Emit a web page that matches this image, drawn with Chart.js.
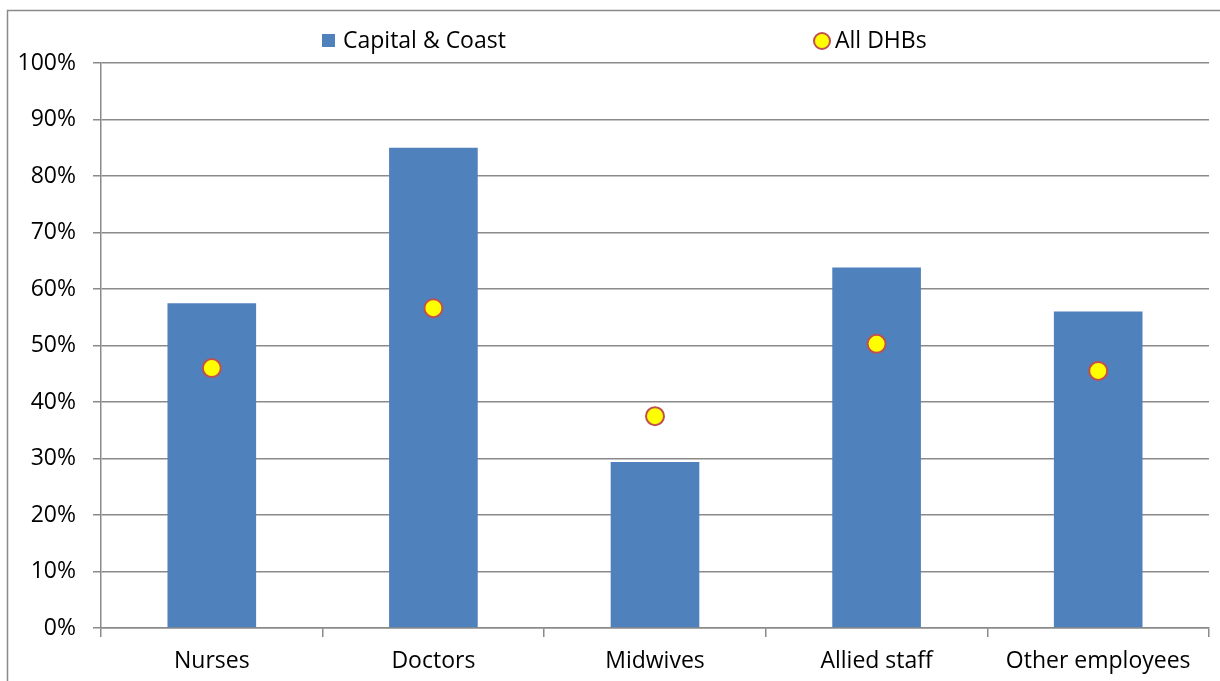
<!DOCTYPE html>
<html>
<head>
<meta charset="utf-8">
<script src="https://cdn.jsdelivr.net/npm/chart.js@4/dist/chart.umd.min.js"></script>
<style>
  html, body { margin: 0; padding: 0; background: #fff; }
  #wrap { width: 1220px; height: 681px; }
</style>
</head>
<body>
<div id="wrap"><canvas id="myChart" width="1220" height="681"></canvas></div>
<script>
const categories = ['Nurses', 'Doctors', 'Midwives', 'Allied staff', 'Other employees'];
const capitalCoast = [57.5, 85.0, 29.4, 63.8, 56.0];
const allDhbs = [46.0, 56.6, 37.5, 50.3, 45.5];
const yTicks = [0, 10, 20, 30, 40, 50, 60, 70, 80, 90, 100];

const FONT = '"Open Sans", "Noto Sans", sans-serif';
const gridColor = '#8a8a8a';

// outer frame + legend spread out like the original
const framePlugin = {
    id: 'frame',
    beforeDraw(chart) {
        const ctx = chart.ctx;
        ctx.save();
        ctx.fillStyle = '#fff';
        ctx.fillRect(0, 0, chart.width, chart.height);
        ctx.strokeStyle = gridColor;
        ctx.lineWidth = 1.5;
        ctx.strokeRect(7.5, 10.5, 1400, 1000);
        ctx.restore();
    },
    afterDraw(chart) {
        const ctx = chart.ctx;
        ctx.save();
        ctx.font = '23px ' + FONT;
        ctx.textBaseline = 'middle';
        ctx.fillStyle = '#4F81BD';
        ctx.fillRect(322, 34, 13, 13);
        ctx.fillStyle = '#000';
        ctx.fillText(chart.data.datasets[0].label, 343, 41);
        ctx.beginPath();
        ctx.arc(822, 41, 8, 0, Math.PI * 2);
        ctx.fillStyle = '#FFFF00';
        ctx.fill();
        ctx.lineWidth = 2;
        ctx.strokeStyle = '#C0504D';
        ctx.stroke();
        ctx.fillStyle = '#000';
        ctx.fillText(chart.data.datasets[1].label, 835, 41);
        ctx.restore();
    }
};

const ctx = document.getElementById('myChart').getContext('2d');
const myChart = new Chart(ctx, {
    type: 'bar',
    data: {
        labels: categories,
        datasets: [{
            label: 'Capital & Coast',
            data: capitalCoast,
            backgroundColor: '#4F81BD',
            categoryPercentage: 1,
            barPercentage: 0.4,
            order: 1
        }, {
            label: 'All DHBs',
            type: 'line',
            data: allDhbs,
            showLine: false,
            pointRadius: 9,
            pointHoverRadius: 9,
            pointBackgroundColor: '#FFFF00',
            pointBorderColor: '#C0504D',
            pointBorderWidth: 2,
            order: 0
        }]
    },
    plugins: [framePlugin],
    options: {
        responsive: false,
        animation: false,
        layout: { padding: { top: 63, right: 8, left: 0, bottom: 0 } },
        plugins: {
            legend: { display: false },
            tooltip: { enabled: false }
        },
        scales: {
            x: {
                grid: {
                    offset: true,
                    drawOnChartArea: false,
                    drawTicks: true,
                    tickLength: 9,
                    color: gridColor,
                    lineWidth: 1.5
                },
                border: { color: gridColor, width: 1.5 },
                ticks: {
                    color: '#000',
                    font: { family: FONT, size: 23 },
                    padding: 11,
                    maxRotation: 0
                },
                afterFit(scale) {
                    scale.height = 53;
                    scale.paddingLeft = 0;
                    scale.paddingRight = 0;
                }
            },
            y: {
                min: 0,
                max: 100,
                afterBuildTicks(scale) { scale.ticks = yTicks.map(v => ({ value: v })); },
                grid: {
                    color: gridColor,
                    lineWidth: 1.5,
                    tickLength: 8
                },
                border: { color: gridColor, width: 1.5 },
                ticks: {
                    color: '#000',
                    font: { family: FONT, size: 23 },
                    padding: 17,
                    callback: v => v + '%'
                },
                afterFit(scale) { scale.width = 101; }
            }
        }
    }
});
</script>
</body>
</html>
